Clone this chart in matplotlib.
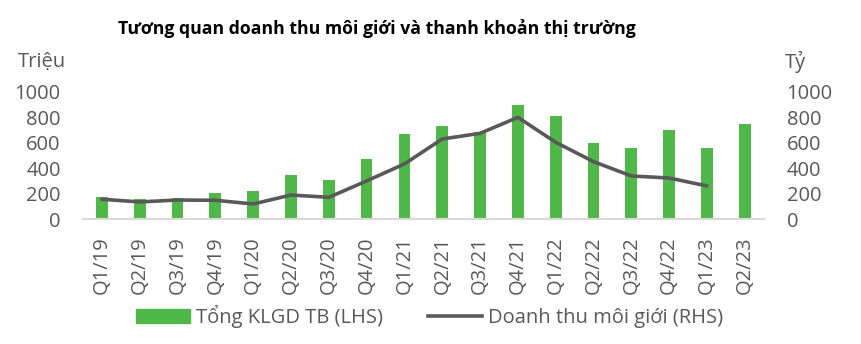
import numpy as np
import matplotlib.pyplot as plt
from matplotlib.patches import Patch
from matplotlib.lines import Line2D

plt.rcParams['font.family'] = ['Open Sans', 'DejaVu Sans']

# data
quarters = ['Q1/19', 'Q2/19', 'Q3/19', 'Q4/19', 'Q1/20', 'Q2/20', 'Q3/20', 'Q4/20',
            'Q1/21', 'Q2/21', 'Q3/21', 'Q4/21', 'Q1/22', 'Q2/22', 'Q3/22', 'Q4/22',
            'Q1/23', 'Q2/23']
klgd = [176, 160, 168, 207, 223, 348, 309, 473, 668, 730, 684, 895, 809, 598, 559, 699, 559, 746]
doanh_thu = [158, 137, 152, 150, 121, 191, 173, 301, 434, 629, 673, 798, 603, 452, 340, 324, 262]

green = '#50b848'
grey = '#595959'
fs = 14.5

fig = plt.figure(figsize=(8.61, 3.44), dpi=100)
ax = fig.add_axes([0.0964, 0.362, 0.7906, 0.372])
ax2 = ax.twinx()

x = np.arange(len(quarters))
ax.bar(x, klgd, width=0.31, color=green, zorder=2)
ax2.plot(x[:len(doanh_thu)], doanh_thu, color=grey, lw=2.6, solid_capstyle='round', zorder=3)

for a in (ax, ax2):
    a.set_ylim(0, 1000)
    a.set_yticks([0, 200, 400, 600, 800, 1000])
    a.tick_params(length=0, labelsize=fs, labelcolor=grey)
    for s in a.spines.values():
        s.set_visible(False)
ax.set_xlim(-0.5, len(quarters) - 0.5)
ax.spines['bottom'].set_visible(True)
ax.spines['bottom'].set_color('#d9d9d9')
ax.spines['bottom'].set_linewidth(1.5)
ax.set_xticks(x)
ax.set_xticklabels(quarters, rotation=90)
ax.tick_params(axis='x', pad=12)
ax.tick_params(axis='y', pad=16)
ax2.tick_params(axis='y', pad=16.5)

fig.text(0.021, 0.82, 'Triệu', fontsize=fs, color=grey, va='center', ha='left')
fig.text(0.912, 0.82, 'Tỷ', fontsize=fs, color=grey, va='center', ha='left')
fig.text(0.137, 0.918, 'Tương quan doanh thu môi giới và thanh khoản thị trường',
         fontsize=12.7, fontweight='bold', color='black', va='center', ha='left')

handles = [Patch(color=green), Line2D([], [], color=grey, lw=2.6)]
labels = ['Tổng KLGD TB (LHS)', 'Doanh thu môi giới (RHS)']
fig.legend(handles, labels, loc='center', bbox_to_anchor=(0.499, 0.081), ncol=2,
           frameon=False, fontsize=fs, labelcolor=grey, handlelength=2.7,
           handletextpad=0.3, columnspacing=2.2)

fig.savefig('out.png', dpi=100)
